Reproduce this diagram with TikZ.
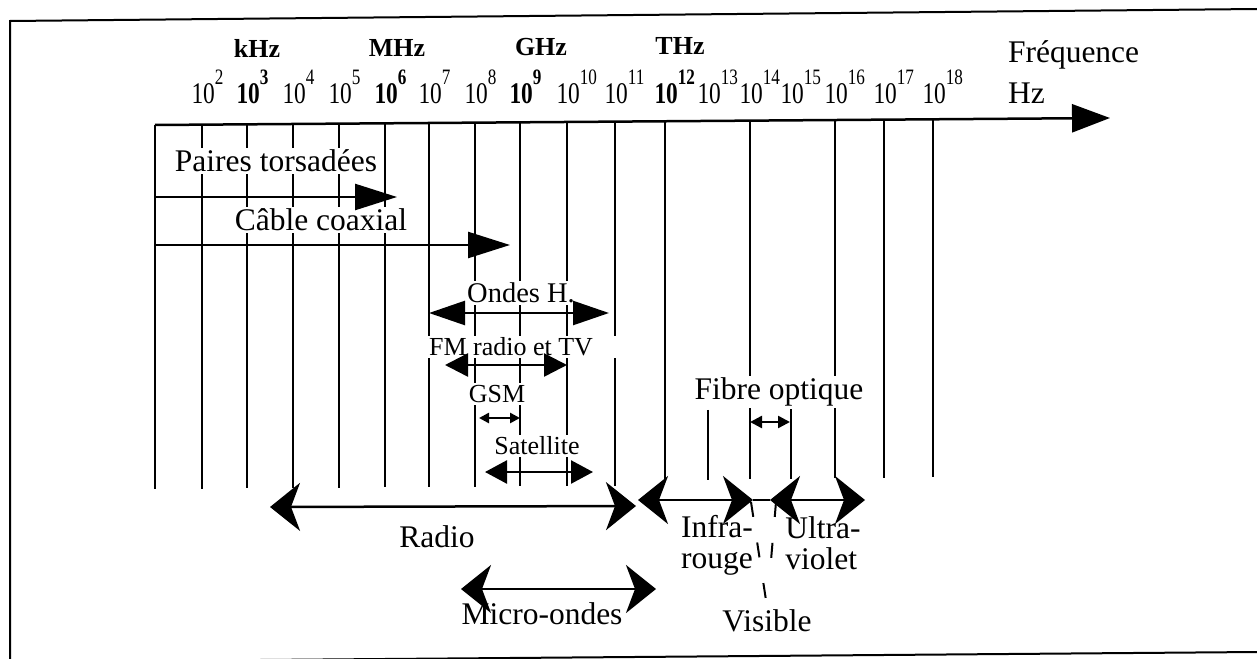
\documentclass[tikz,border=0pt]{standalone}
\usepackage{graphicx}
\usepackage{fontspec}
\setmainfont{Liberation Serif}
\usetikzlibrary{arrows.meta}
\newcommand{\puiss}[1]{\scalebox{0.78}[1]{10\raisebox{19pt}{\fontsize{22}{22}\selectfont #1}}}

\begin{document}
\begin{tikzpicture}[x=1pt,y=-1pt,line width=2pt,
    grand/.style={font=\fontsize{31.5}{31}\selectfont,inner sep=2pt},
    moyen/.style={font=\fontsize{26}{30}\selectfont,inner sep=2pt},
    blanc/.style={fill=white},
    expo/.style={font=\fontsize{30}{32}\selectfont,anchor=base west,inner sep=0pt},
    expogras/.style={expo,font=\bfseries\fontsize{30}{32}\selectfont},
    unite/.style={font=\bfseries\fontsize{26}{30}\selectfont,anchor=base,inner sep=0pt},
    axe/.style={line width=2.5pt,-{Triangle[length=38pt,width=28pt]}},
    aller/.style={line width=2.5pt,-{Triangle[length=42pt,width=26pt]}},
    allerretour/.style n args={2}{line width=2.5pt,{Triangle[length=#1,width=#2]}-{Triangle[length=#1,width=#2]}},
    bande/.style={line width=2.5pt,{Stealth[length=30pt,width=48pt,inset=9pt]}-{Stealth[length=30pt,width=48pt,inset=9pt]}},
    pointille/.style={dash pattern=on 15pt off 26pt}]
  \useasboundingbox (0,0) rectangle (1257,658);

  %cadre
  \draw (1257,9) -- (10,21) -- (10,662) -- (1257,652);

  %axe des frequences
  \foreach \x [count=\i from 0] in {155,202,247,293,339,385,429,475,520,567,615,665,708,750,791,835,884,933}
    \coordinate (g\i) at (\x,{125-7*(\x-155)/955});
  \coordinate (fin) at (1110,118);
  \draw[axe] (g0) -- (fin);

  %traits verticaux
  \foreach \i in {0,...,10} \draw (g\i) -- ++(0,364);
  \foreach \i in {11,13,15,16,17} \draw (g\i) -- ++(0,358);
  \foreach \i in {12,14} \draw (g\i) ++(0,289) -- ++(0,70);

  %puissances de 10
  \foreach \n/\x in {2/202,4/293,5/339,7/429,8/475,10/567,11/615,13/708,14/750,15/791,16/835,17/884,18/933}
    \node[expo] (p\n) at (\x-11.5,104) {\puiss{\n}};
  \foreach \n/\x in {3/247,6/385,9/520,12/665}
    \node[expogras] (p\n) at (\x-11.5,104) {\puiss{\n}};
  \node[unite] (khz) at (257,58) {kHz};
  \node[unite] (mhz) at (397,57) {MHz};
  \node[unite] (ghz) at (541,56) {GHz};
  \node[unite] (thz) at (680,55) {THz};
  \node[grand,anchor=base west,inner sep=0pt] (freq) at (1007,63) {Fréquence};
  \node[grand,anchor=base west,inner sep=0pt] (hz) at (1007,103) {Hz};

  %supports de transmission
  \node[grand,blanc] (paires) at (276,161) {Paires torsadées};
  \node[grand,blanc] (coax) at (321,220) {Câble coaxial};
  \node[moyen,blanc,font=\fontsize{28.5}{30}\selectfont] (ondes) at (521,293) {Ondes H.};
  \node[moyen,blanc,minimum width=212pt] (fm) at (511,347) {FM radio et TV};
  \node[moyen,blanc] (gsm) at (497,394) {GSM};
  \node[moyen,blanc] (sat) at (537,446) {Satellite};
  \node[grand,blanc] (fibre) at (779,392) {Fibre optique};

  \coordinate (paires0) at (155,197);  \coordinate (paires1) at (397,197);
  \coordinate (coax0) at (155,245);    \coordinate (coax1) at (510,245);
  \coordinate (ondes0) at (429,313);   \coordinate (ondes1) at (609,313);
  \coordinate (fm0) at (445,365);      \coordinate (fm1) at (567,365);
  \coordinate (gsm0) at (479,418);     \coordinate (gsm1) at (520,418);
  \coordinate (sat0) at (485,472);     \coordinate (sat1) at (593,472);
  \coordinate (fibre0) at (750,422);   \coordinate (fibre1) at (790,422);

  \draw[aller] (paires0) -- (paires1);
  \draw[aller] (coax0) -- (coax1);
  \draw[allerretour={36pt}{24pt}] (ondes0) -- (ondes1);
  \draw[allerretour={23pt}{23pt}] (fm0) -- (fm1);
  \draw[allerretour={10pt}{10pt}] (gsm0) -- (gsm1);
  \draw[allerretour={22pt}{23pt}] (sat0) -- (sat1);
  \draw[allerretour={12pt}{12pt}] (fibre0) -- (fibre1);

  %domaines du spectre
  \coordinate (radio0) at (270,507);   \coordinate (radio1) at (636,506);
  \coordinate (ir0) at (638,500);      \coordinate (ir1) at (753,500);
  \coordinate (uv0) at (770,500);      \coordinate (uv1) at (865,500);
  \coordinate (micro0) at (461,589);   \coordinate (micro1) at (656,589);
  \draw[bande] (radio0) -- (radio1);
  \draw[bande] (ir0) -- (ir1);
  \draw[line width=2.5pt] (ir1) -- (uv0);
  \draw[bande] (uv0) -- (uv1);
  \draw[bande] (micro0) -- (micro1);

  \node[grand] (radio) at (437,537) {Radio};
  \node[grand] (micro) at (542,614) {Micro-ondes};
  \node[grand,align=left] (ir) at (717,545) {Infra-\\rouge};
  \node[grand,align=left] (uv) at (823,543) {Ultra-\\violet};
  \node[grand] (visible) at (767,621) {Visible};

  \coordinate (vis0) at (751,502);  \coordinate (vis1) at (776,502);
  \draw[pointille,shorten >=6pt] (vis0) -- (visible.north);
  \draw[pointille,shorten >=45pt] (vis1) -- (visible.north);
\end{tikzpicture}
\end{document}
